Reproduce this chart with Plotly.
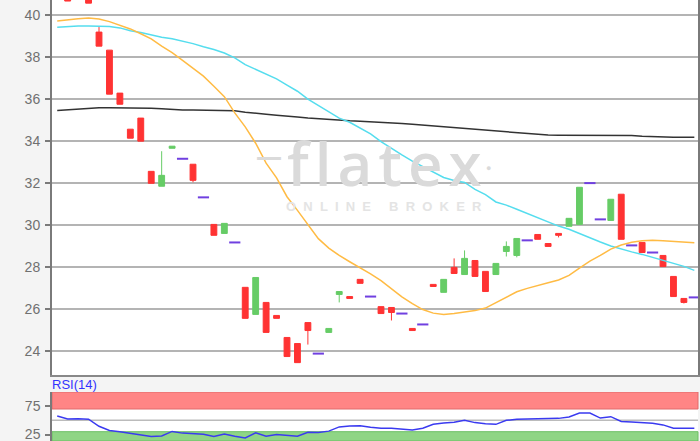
import plotly.graph_objects as go

# trading days shown (index along the x axis)
days = list(range(62))

opens = [41.80, 41.40, 40.80, 41.30, 39.20, 38.34, 36.29, 34.57, 35.10, 32.56,
         31.85, 33.66, 33.16, 32.90, 31.32, 30.03, 29.60, 29.17, 27.03, 25.74,
         26.31, 25.69, 24.64, 24.35, 25.35, 23.87, 24.88, 26.69, 26.59, 27.41,
         26.59, 26.11, 26.07, 25.78, 25.07, 25.26, 27.17, 26.79, 27.98, 27.64,
         28.31, 27.79, 27.64, 28.74, 28.55, 29.27, 29.55, 29.12, 29.60, 29.94,
         30.03, 32.00, 30.27, 30.22, 31.47, 29.03, 29.17, 28.69, 28.55, 27.55,
         26.50, 26.55]
closes = [41.00, 40.68, 41.20, 40.58, 38.53, 36.24, 35.76, 34.14, 34.00, 31.99,
          32.37, 33.76, 33.16, 32.13, 31.32, 29.51, 30.08, 29.17, 25.55, 27.50,
          24.88, 25.55, 23.73, 23.44, 24.97, 23.87, 25.07, 26.83, 26.50, 27.22,
          26.59, 25.78, 25.83, 25.78, 24.97, 25.26, 27.07, 27.41, 27.69, 28.41,
          27.55, 26.83, 28.17, 28.98, 29.36, 29.27, 29.32, 28.98, 29.51, 30.32,
          31.80, 32.00, 30.27, 31.23, 29.32, 29.03, 28.69, 28.69, 28.02, 26.59,
          26.31, 26.55]
highs = [41.80, 41.40, 41.20, 41.30, 39.44, 38.34, 36.29, 34.57, 35.10, 32.56,
         33.52, 33.76, 33.16, 32.90, 31.32, 30.03, 30.08, 29.17, 27.03, 27.50,
         26.31, 25.69, 24.64, 24.35, 25.35, 23.87, 25.07, 26.83, 26.59, 27.41,
         26.59, 26.11, 26.07, 25.78, 25.07, 25.26, 27.17, 27.41, 28.41, 28.79,
         28.31, 27.79, 28.17, 29.22, 29.36, 29.27, 29.55, 29.12, 29.60, 30.32,
         31.80, 32.00, 30.27, 31.23, 31.47, 29.03, 29.17, 28.69, 28.55, 27.55,
         26.50, 26.55]
lows = [41.00, 40.68, 40.80, 40.58, 38.53, 36.24, 35.76, 34.14, 34.00, 31.99,
        31.85, 33.66, 33.16, 32.04, 31.32, 29.51, 29.60, 29.17, 25.55, 25.74,
        24.88, 25.55, 23.73, 23.44, 24.30, 23.87, 24.88, 26.31, 26.50, 27.22,
        26.59, 25.78, 25.45, 25.78, 24.97, 25.26, 27.07, 26.79, 27.69, 27.64,
        27.55, 26.83, 27.64, 28.50, 28.46, 29.27, 29.32, 28.98, 29.41, 29.94,
        30.03, 32.00, 30.27, 30.22, 29.32, 29.03, 28.69, 28.69, 28.02, 26.59,
        26.26, 26.55]

sma_long = [35.46, 35.50, 35.54, 35.57, 35.59, 35.59, 35.59, 35.59, 35.58, 35.57,
            35.54, 35.50, 35.49, 35.49, 35.48, 35.47, 35.48, 35.45, 35.38, 35.32,
            35.28, 35.24, 35.18, 35.15, 35.10, 35.06, 35.03, 35.00, 34.97, 34.95,
            34.93, 34.90, 34.87, 34.84, 34.80, 34.76, 34.70, 34.66, 34.64, 34.61,
            34.56, 34.51, 34.47, 34.43, 34.40, 34.36, 34.32, 34.29, 34.28, 34.28,
            34.28, 34.28, 34.28, 34.28, 34.28, 34.27, 34.23, 34.21, 34.20, 34.19,
            34.19, 34.19]
sma_mid = [39.43, 39.47, 39.49, 39.49, 39.49, 39.47, 39.40, 39.26, 39.18, 39.05,
           38.95, 38.88, 38.77, 38.65, 38.50, 38.37, 38.20, 37.97, 37.65, 37.42,
           37.17, 36.97, 36.67, 36.38, 36.00, 35.70, 35.40, 35.10, 34.90, 34.62,
           34.35, 33.98, 33.65, 33.35, 33.05, 32.80, 32.55, 32.27, 32.12, 32.03,
           31.70, 31.45, 31.10, 30.95, 30.75, 30.55, 30.32, 30.12, 29.95, 29.80,
           29.59, 29.41, 29.19, 29.00, 28.85, 28.72, 28.60, 28.45, 28.33, 28.17,
           28.03, 27.84]
sma_short = [39.73, 39.80, 39.84, 39.87, 39.82, 39.70, 39.54, 39.35, 39.12, 38.88,
             38.53, 38.22, 37.85, 37.48, 37.10, 36.62, 36.12, 35.35, 34.68, 33.90,
             32.95, 32.25, 31.35, 30.70, 30.00, 29.35, 28.90, 28.55, 28.25, 27.97,
             27.67, 27.35, 26.95, 26.58, 26.25, 25.97, 25.80, 25.73, 25.78, 25.84,
             25.92, 26.04, 26.30, 26.55, 26.82, 26.98, 27.10, 27.25, 27.38, 27.60,
             27.95, 28.28, 28.55, 28.85, 29.05, 29.18, 29.25, 29.27, 29.25, 29.21,
             29.17, 29.16]
rsi = [57.7, 52.5, 53.0, 52.0, 39.5, 32.0, 30.0, 27.0, 25.0, 21.5,
       22.5, 30.5, 27.5, 26.5, 25.5, 21.5, 26.0, 22.0, 19.0, 28.0,
       22.0, 25.0, 23.5, 22.0, 29.0, 28.5, 31.0, 38.5, 40.0, 40.5,
       38.0, 36.0, 36.0, 34.5, 33.0, 36.0, 43.0, 45.5, 46.5, 50.0,
       46.0, 44.0, 43.0, 50.0, 52.0, 52.4, 52.4, 52.4, 53.5, 56.0,
       63.0, 63.0, 54.0, 56.5, 48.0, 47.0, 46.0, 45.0, 42.0, 36.0,
       36.0, 36.0]

price_ticks = [24, 26, 28, 30, 32, 34, 36, 38, 40]
rsi_ticks = [25, 75]

RED = "#ff3333"
GREEN = "#66cc66"
PURPLE = "#7040e0"
GRID = "#b4b4b4"
AXIS = "#7a7a7a"
TICKFONT = dict(family="Liberation Sans, Arial", size=14, color="#707070")
WM = "#dadada"

body = [i for i in days if opens[i] != closes[i]]
doji = [i for i in days if opens[i] == closes[i]]

fig = go.Figure()

fig.add_trace(go.Candlestick(
    x=[days[i] for i in body],
    open=[opens[i] for i in body],
    high=[highs[i] for i in body],
    low=[lows[i] for i in body],
    close=[closes[i] for i in body],
    increasing=dict(line=dict(color=GREEN, width=1), fillcolor=GREEN),
    decreasing=dict(line=dict(color=RED, width=1), fillcolor=RED),
    whiskerwidth=0,
    hoverinfo="skip",
    showlegend=False))

fig.add_trace(go.Scatter(
    x=doji, y=[closes[i] for i in doji], mode="markers",
    marker=dict(symbol="line-ew", size=8, line=dict(color=PURPLE, width=2)),
    hoverinfo="skip", showlegend=False))

for vals, color in [(sma_long, "#333333"), (sma_mid, "#55ddee"), (sma_short, "#ffbb44")]:
    fig.add_trace(go.Scatter(x=days, y=vals, mode="lines",
                             line=dict(color=color, width=1.5),
                             hoverinfo="skip", showlegend=False))

fig.add_trace(go.Scatter(x=days, y=rsi, mode="lines", xaxis="x2", yaxis="y2",
                         line=dict(color="#3a3af0", width=1.5),
                         hoverinfo="skip", showlegend=False))

# RSI zones
fig.add_shape(type="rect", xref="x2 domain", yref="y2", x0=0, x1=1, y0=70, y1=100,
              fillcolor="#ff8585", line=dict(color="#e06a6a", width=1), layer="below")
fig.add_shape(type="rect", xref="x2 domain", yref="y2", x0=0, x1=1, y0=13.6, y1=30,
              fillcolor="#8fd585", line=dict(color="#6cbf64", width=1), layer="below")
fig.add_shape(type="line", xref="x2 domain", yref="y2", x0=0, x1=1, y0=50, y1=50,
              line=dict(color="#bbbbbb", width=1.5), layer="below")

# watermark
hair = "\u200a"
fig.add_annotation(x=31.3, y=32.95, xref="x", yref="y", text=hair.join("flatex"),
                   showarrow=False,
                   font=dict(family="Open Sans, Arial", size=60, weight=600, color=WM))
fig.add_annotation(x=20.3, y=33.3, xref="x", yref="y", text="\u2014", showarrow=False,
                   font=dict(family="Open Sans, Arial", size=26, weight=700, color=WM))
fig.add_annotation(x=41.25, y=32.75, xref="x", yref="y", text="●", showarrow=False,
                   font=dict(size=9, color=WM))
fig.add_annotation(x=31.3, y=30.89, xref="x", yref="y",
                   text="O  N  L  I  N  E     B  R  O  K  E  R", showarrow=False,
                   font=dict(family="Liberation Sans, Arial", size=13, weight="bold",
                             color="#e4e4e4"))

fig.add_annotation(x=0, y=(441 - 384) / 441, xref="paper", yref="paper", text="RSI(14)",
                   showarrow=False, xanchor="left", yanchor="middle", xshift=-2,
                   font=dict(family="Liberation Sans, Arial", size=13, color="#3333ff"))

fig.update_layout(
    width=700, height=441,
    margin=dict(l=52, r=2, t=0, b=0),
    paper_bgcolor="#f4f4f4",
    plot_bgcolor="#ffffff",
    boxgap=0.2,
    xaxis=dict(domain=[0, 1], range=[-0.5, 61.35], anchor="y",
               rangeslider=dict(visible=False), showticklabels=False,
               showgrid=False, zeroline=False, showline=True,
               linecolor="#888888", linewidth=2),
    yaxis=dict(domain=[(441 - 375) / 441, 1], range=[22.85, 40.73], anchor="x",
               tickvals=price_ticks, ticks="outside", ticklen=5, tickcolor=AXIS,
               tickwidth=1.5, gridcolor=GRID, gridwidth=1.5, zeroline=False,
               showline=True, linecolor=AXIS, linewidth=2, mirror=True,
               ticklabelstandoff=2, tickfont=TICKFONT),
    xaxis2=dict(domain=[0, 1], matches="x", anchor="y2", showticklabels=False,
                showgrid=False, zeroline=False),
    yaxis2=dict(domain=[0, (441 - 392) / 441], range=[13.6, 100], anchor="x2",
                tickvals=rsi_ticks, showgrid=False, zeroline=False,
                ticks="outside", ticklen=5, tickcolor=AXIS, tickwidth=1.5,
                showline=True, linecolor=AXIS, linewidth=1.5,
                ticklabelstandoff=2, ticklabeloverflow="allow", tickfont=TICKFONT),
)

fig.write_html("out.html", config=dict(displayModeBar=False),
               post_script="document.body.style.margin='0';")
